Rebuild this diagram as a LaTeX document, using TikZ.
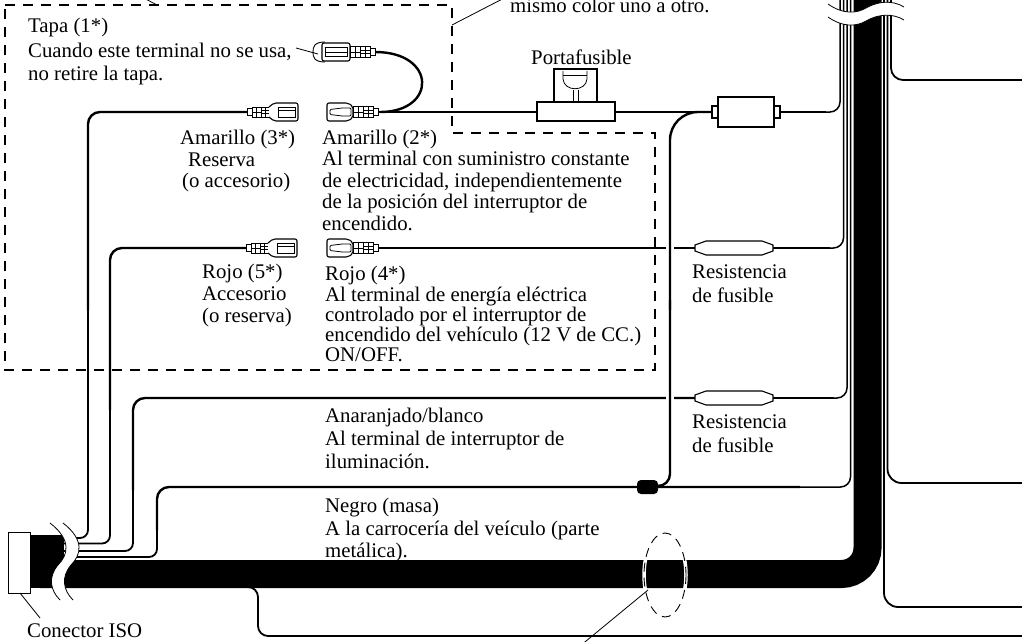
\documentclass[tikz,border=0pt]{standalone}
\usepackage{fontspec}
\setmainfont{Liberation Serif}
\begin{document}
\begin{tikzpicture}[x=1pt,y=-1pt,
  lbl/.style={anchor=base west, inner sep=0pt, font=\fontsize{20.8}{22}\selectfont},
  wire/.style={line width=2.4pt},
  twire/.style={line width=1.8pt},
  bwire/.style={line width=1.5pt},
  dbox/.style={line width=1.1pt, dash pattern=on 10pt off 8pt},
  part/.style={line width=1.1pt, fill=white},
  thin/.style={line width=0.8pt},
  lead/.style={line width=0.8pt},
  femconn/.pic={
    \draw[line width=1pt, fill=white] (0,-3.5) rectangle (5,3.5);
    \draw[line width=1pt, fill=white] (5,-5) rectangle (22,5);
    \draw[thin] (9,-5) -- (9,5) (14,-5) -- (14,5) (18,-5) -- (18,5) (5,0) -- (14,0) (14,-1.5) -- (22,-1.5) (14,1.5) -- (22,1.5);
    \draw[line width=1.1pt, fill=white, rounded corners=2pt] (22,-5) -- (27,-9) -- (51,-9) -- (51,9) -- (27,9) -- (22,5);
    \draw[thin] (31,-5) rectangle (48,5) (31,-1.5) -- (48,-1.5);
  },
  maleconn/.pic={
    \draw[line width=1.1pt, fill=white, rounded corners=2pt] (0,-9) -- (21,-9) -- (26,-5.5) -- (26,5.5) -- (21,9) -- (0,9) -- cycle;
    \draw[thin, rounded corners=1pt] (3,-2.5) -- (15,-4) -- (24,-4) -- (24,4) -- (15,4) -- (3,2.5) -- cycle;
    \draw[line width=1pt, fill=white] (26,-5.5) rectangle (46,5.5);
    \draw[thin] (31,-5.5) -- (31,5.5) (36,-5.5) -- (36,5.5) (41,-5.5) -- (41,5.5) (26,0) -- (36,0) (36,-1.5) -- (46,-1.5) (36,1.5) -- (46,1.5);
    \draw[line width=1pt, fill=white] (46,-3.5) rectangle (51,3.5);
  },
  capconn/.pic={
    \draw[line width=0.9pt] (12,-10) .. controls (1,-10) and (0,-5) .. (0,0) .. controls (0,5) and (1,10) .. (12,10);
    \draw[line width=1.1pt, fill=white, rounded corners=2pt] (9,-9) rectangle (37,9);
    \draw[thin] (12,-4.5) rectangle (34,4.5) (12,0) -- (34,0);
    \draw[line width=1pt, fill=white] (37,-5.5) rectangle (57,5.5);
    \draw[thin] (42,-5.5) -- (42,5.5) (47,-5.5) -- (47,5.5) (52,-5.5) -- (52,5.5) (37,0) -- (47,0) (47,-1.5) -- (57,-1.5) (47,1.5) -- (57,1.5);
    \draw[line width=1pt, fill=white] (57,-3.5) rectangle (62,3.5);
  },
  resist/.pic={
    \draw[part] (0,-3) -- (11,-7) -- (67,-7) -- (78,-3) -- (78,3) -- (67,7) -- (11,7) -- (0,3) -- cycle;
  }]
\useasboundingbox (0,0) rectangle (1022,642);

% ---------- coordinates ----------
\coordinate (c3) at (247,112);
\coordinate (c2) at (327,112);
\coordinate (c5) at (246,248);
\coordinate (c4) at (327,248);
\coordinate (cap) at (313,52);
\coordinate (r1) at (695,248);
\coordinate (r2) at (695,398);
\coordinate (inl) at (712,112);
\coordinate (splice) at (647,487);

% ---------- main harness bundle ----------
\draw[line width=28pt, rounded corners=26pt] (40,574) -- (867.5,574) -- (867.5,-4);
\fill (30,535) rectangle (64,588);

% ---------- wires from ISO connector ----------
% yellow (3*)
\draw[twire, rounded corners=8pt] (60,538) -- (88,538) -- (88,300);
\draw[wire, rounded corners=12pt] (88,310) -- (88,112) -- (c3);
% red (5*)
\draw[twire, rounded corners=8pt] (60,543.5) -- (110,543.5) -- (110,400);
\draw[wire, rounded corners=12pt] (110,410) -- (110,248) -- (c5);
% orange/white
\draw[twire, rounded corners=8pt] (60,551) -- (133,551) -- (133,480);
\draw[wire, rounded corners=12pt] (133,490) -- (133,398) -- (r2);
% black (ground)
\draw[twire, rounded corners=8pt] (60,557) -- (157,557) -- (157,520);
\draw[wire, rounded corners=12pt] (157,530) -- (157,487) -- (800,487);
\draw[bwire, rounded corners=10pt] (790,487) -- (850.5,487) -- (850.5,-4);

% ---------- wires into the harness ----------
% constant supply (yellow 2*)
\draw[wire] (378,112) -- (inl);
\draw[wire] (780,112) -- (826,112);
\draw[bwire, rounded corners=10pt] (820,112) -- (840,112) -- (840,-4);
% red 4*
\draw[wire] (378,248) -- (r1);
\draw[wire] (773,248) -- (830,248);
\draw[bwire, rounded corners=10pt] (825,248) -- (843.5,248) -- (843.5,-4);
% orange after resistor
\draw[wire] (773,398) -- (834,398);
\draw[bwire, rounded corners=10pt] (828,398) -- (847,398) -- (847,-4);

% cap wire
\draw[wire] (375,52) .. controls (437,52) and (437,112) .. (380,112);

% splice wire going up
\draw[white, line width=8pt] (670,200) -- (670,440);
\draw[wire, rounded corners=12pt] (656,486) -- (670,486) -- (670,300);
\draw[wire, rounded corners=28pt] (670,310) -- (670,112) -- (inl);
\fill[rounded corners=4pt] (637,480) rectangle (658,494);
\node[inner sep=0pt] (splicenode) at (splice) {};

% ---------- right-hand wires ----------
\draw[twire, rounded corners=12pt] (1026,80) -- (891,80) -- (891,-4);
\draw[twire, rounded corners=14pt] (1026,483) -- (887.5,483) -- (887.5,-4);
\draw[twire, rounded corners=14pt] (1026,607) -- (884,607) -- (884,-4);
\draw[twire, rounded corners=10pt] (240,587) -- (258,587) -- (258,636) -- (1026,636);

% ---------- breaks ----------
\fill[white] (828,4) .. controls (842,14) and (856,14) .. (866,8) .. controls (878,1) and (893,0) .. (904,7)
  -- (904,20) .. controls (893,13) and (878,14) .. (866,21) .. controls (856,27) and (842,27) .. (828,17) -- cycle;
\draw[thin] (828,4) .. controls (842,14) and (856,14) .. (866,8) .. controls (878,1) and (893,0) .. (904,7);
\draw[thin] (828,17) .. controls (842,27) and (856,27) .. (866,21) .. controls (878,14) and (893,13) .. (904,20);

\fill[white] (50,523) .. controls (72,540) and (68,555) .. (58,565) .. controls (48,577) and (50,590) .. (60,600)
  -- (73,600) .. controls (63,590) and (61,577) .. (71,565) .. controls (81,555) and (85,540) .. (63,523) -- cycle;
\draw[thin] (50,523) .. controls (72,540) and (68,555) .. (58,565) .. controls (48,577) and (50,590) .. (60,600);
\draw[thin] (63,523) .. controls (85,540) and (81,555) .. (71,565) .. controls (61,577) and (63,590) .. (73,600);

% ISO connector
\draw[part, line width=1pt] (8,532) rectangle (30,593);
\node[inner sep=0pt] (iso) at (19,562) {};

% ---------- parts ----------
\pic at (c3) {femconn};
\pic at (c5) {femconn};
\pic at (c2) {maleconn};
\pic at (c4) {maleconn};
\pic at (cap) {capconn};
\pic at (r1) {resist};
\pic at (r2) {resist};
% fuse holder
\draw[part] (554,69) rectangle (597,102);
\draw[part] (537,102) rectangle (615,121);
\draw[thin] (563,71) -- (563,79) .. controls (564,92) and (586,92) .. (587,79) -- (587,71);
\draw[thin] (563,75) -- (587,75);
\draw[thin] (573,90) -- (573,102) (578,90) -- (578,102);
% inline connector
\draw[part] (712,106) rectangle (719,118);
\draw[part] (773,106) rectangle (780,118);
\draw[part] (718,97) rectangle (774,127);

% ---------- dashed group ----------
\draw[dbox] (5,5) -- (452,5) -- (452,133) -- (655,133) -- (655,370) -- (5,370) -- cycle;
\draw[lead] (452,25) -- (512,-6);
\draw[lead] (140,-4) -- (157,5);

% dashed ellipse on harness
\draw[white, line width=3.5pt] (665,575) ellipse [x radius=21, y radius=42];
\draw[line width=0.9pt, dash pattern=on 9pt off 6pt] (665,575) ellipse [x radius=21, y radius=42];
\draw[lead] (648,590) -- (580,646);

% leaders
\draw[lead] (296,48) -- (318,54);
\draw[lead] (20,593) -- (40,618);

% ---------- texts ----------
\node[lbl] (t0) at (510,13) {mismo color uno a otro.};
\node[lbl] (t1a) at (28,33) {Tapa (1*)};
\node[lbl] (t1b) at (28,57) {Cuando este terminal no se usa,};
\node[lbl] (t1c) at (28,80) {no retire la tapa.};
\node[lbl] (pf) at (531,65) {Portafusible};

\node[lbl] (t3a) at (180,144) {Amarillo (3*)};
\node[lbl] (t3b) at (188,166) {Reserva};
\node[lbl] (t3c) at (182,187) {(o accesorio)};

\node[lbl] (t2a) at (322,144) {Amarillo (2*)};
\node[lbl] (t2b) at (322,165.5) {Al terminal con suministro constante};
\node[lbl] (t2c) at (322,187) {de electricidad, independientemente};
\node[lbl] (t2d) at (322,208.5) {de la posición del interruptor de};
\node[lbl] (t2e) at (322,230) {encendido.};

\node[lbl] (t5a) at (202,278) {Rojo (5*)};
\node[lbl] (t5b) at (202,300) {Accesorio};
\node[lbl] (t5c) at (202,322) {(o reserva)};

\node[lbl] (t4a) at (325,280) {Rojo (4*)};
\node[lbl] (t4b) at (325,301) {Al terminal de energía eléctrica};
\node[lbl] (t4c) at (325,321.5) {controlado por el interruptor de};
\node[lbl] (t4d) at (325,341.5) {encendido del vehículo (12 V de CC.)};
\node[lbl] (t4e) at (325,361) {ON/OFF.};

\node[lbl] (ra1) at (692,278) {Resistencia};
\node[lbl] (ra2) at (692,302) {de fusible};
\node[lbl] (rb1) at (692,428) {Resistencia};
\node[lbl] (rb2) at (692,452) {de fusible};

\node[lbl] (oa) at (325,422) {Anaranjado/blanco};
\node[lbl] (ob) at (325,445) {Al terminal de interruptor de};
\node[lbl] (oc) at (325,468) {iluminación.};

\node[lbl] (na) at (325,512) {Negro (masa)};
\node[lbl] (nb) at (325,535) {A la carrocería del veículo (parte};
\node[lbl] (nc) at (325,557) {metálica).};

\node[lbl] (iso) at (27,637) {Conector ISO};
\end{tikzpicture}
\end{document}
